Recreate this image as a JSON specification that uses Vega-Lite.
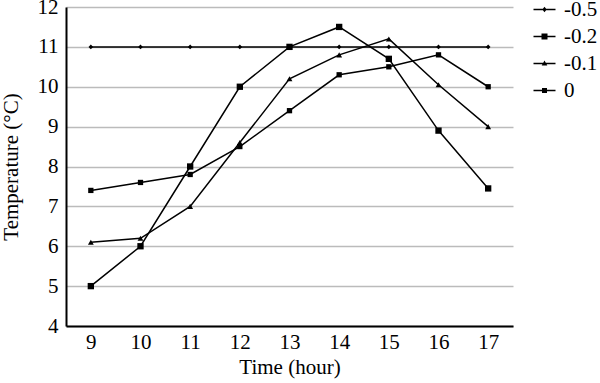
{
  "$schema": "https://vega.github.io/schema/vega-lite/v6.json",
  "autosize": {"type": "none"},
  "padding": {"left": 66, "top": 7, "right": 87, "bottom": 57},
  "width": 447,
  "height": 319,
  "background": "white",
  "config": {
    "font": "Liberation Serif",
    "axis": {"labelFont": "Liberation Serif", "titleFont": "Liberation Serif"},
    "legend": {"labelFont": "Liberation Serif"},
    "view": {"stroke": null}
  },
  "data": {
    "values": [
      {"series": "-0.5", "hour": 9, "temp": 11.0},
      {"series": "-0.5", "hour": 10, "temp": 11.0},
      {"series": "-0.5", "hour": 11, "temp": 11.0},
      {"series": "-0.5", "hour": 12, "temp": 11.0},
      {"series": "-0.5", "hour": 13, "temp": 11.0},
      {"series": "-0.5", "hour": 14, "temp": 11.0},
      {"series": "-0.5", "hour": 15, "temp": 11.0},
      {"series": "-0.5", "hour": 16, "temp": 11.0},
      {"series": "-0.5", "hour": 17, "temp": 11.0},
      {"series": "-0.2", "hour": 9, "temp": 7.4},
      {"series": "-0.2", "hour": 10, "temp": 7.6},
      {"series": "-0.2", "hour": 11, "temp": 7.8},
      {"series": "-0.2", "hour": 12, "temp": 8.5},
      {"series": "-0.2", "hour": 13, "temp": 9.4},
      {"series": "-0.2", "hour": 14, "temp": 10.3},
      {"series": "-0.2", "hour": 15, "temp": 10.5},
      {"series": "-0.2", "hour": 16, "temp": 10.8},
      {"series": "-0.2", "hour": 17, "temp": 10.0},
      {"series": "-0.1", "hour": 9, "temp": 6.1},
      {"series": "-0.1", "hour": 10, "temp": 6.2},
      {"series": "-0.1", "hour": 11, "temp": 7.0},
      {"series": "-0.1", "hour": 12, "temp": 8.6},
      {"series": "-0.1", "hour": 13, "temp": 10.2},
      {"series": "-0.1", "hour": 14, "temp": 10.8},
      {"series": "-0.1", "hour": 15, "temp": 11.2},
      {"series": "-0.1", "hour": 16, "temp": 10.05},
      {"series": "-0.1", "hour": 17, "temp": 9.0},
      {"series": "0", "hour": 9, "temp": 5.0},
      {"series": "0", "hour": 10, "temp": 6.0},
      {"series": "0", "hour": 11, "temp": 8.0},
      {"series": "0", "hour": 12, "temp": 10.0},
      {"series": "0", "hour": 13, "temp": 11.0},
      {"series": "0", "hour": 14, "temp": 11.5},
      {"series": "0", "hour": 15, "temp": 10.7},
      {"series": "0", "hour": 16, "temp": 8.9},
      {"series": "0", "hour": 17, "temp": 7.45}
    ]
  },
  "encoding": {
    "x": {
      "field": "hour", "type": "quantitative",
      "scale": {"domain": [8.5, 17.5], "nice": false, "zero": false},
      "axis": {
        "values": [9, 10, 11, 12, 13, 14, 15, 16, 17],
        "grid": false, "ticks": false,
        "domainColor": "black", "domainWidth": 2,
        "labelFontSize": 21, "labelColor": "black", "labelPadding": 5,
        "title": "Time (hour)", "titleFontSize": 21, "titleFontWeight": "normal",
        "titleColor": "black", "titlePadding": 4
      }
    },
    "y": {
      "field": "temp", "type": "quantitative",
      "scale": {"domain": [4, 12], "nice": false, "zero": false},
      "axis": {
        "values": [4, 5, 6, 7, 8, 9, 10, 11, 12],
        "grid": true, "gridColor": "#bbbbbb", "gridWidth": 1.5,
        "ticks": false,
        "domainColor": "black", "domainWidth": 2,
        "labelFontSize": 21, "labelColor": "black", "labelPadding": 8,
        "title": "Temperature (°C)", "titleFontSize": 21, "titleFontWeight": "normal",
        "titleColor": "black", "titlePadding": 16
      }
    }
  },
  "layer": [
    {
      "mark": {"type": "line", "color": "black", "strokeWidth": 1.5},
      "encoding": {"detail": {"field": "series"}}
    },
    {
      "mark": {"type": "point", "filled": true, "color": "black", "opacity": 1},
      "encoding": {
        "shape": {
          "field": "series", "type": "nominal",
          "scale": {"domain": ["-0.5", "-0.2", "-0.1", "0"], "range": ["diamond", "square", "triangle-up", "square"]},
          "legend": null
        },
        "size": {
          "field": "series", "type": "nominal",
          "scale": {"domain": ["-0.5", "-0.2", "-0.1", "0"], "range": [22, 40, 28, 30]},
          "legend": null
        }
      }
    },
    {
      "mark": {"type": "point", "filled": true, "color": "black", "size": 400, "opacity": 0},
      "encoding": {
        "shape": {
          "field": "series", "type": "nominal",
          "scale": {
            "domain": ["-0.5", "-0.2", "-0.1", "0"],
            "range": [
              "M-1.1,-0.07H1.1V0.07H-1.1ZM0,-0.28L0.22,0L0,0.28L-0.22,0Z",
              "M-1.1,-0.07H1.1V0.07H-1.1ZM-0.3,-0.3H0.3V0.3H-0.3Z",
              "M-1.1,-0.07H1.1V0.07H-1.1ZM0,-0.3L0.28,0.2H-0.28Z",
              "M-1.1,-0.07H1.1V0.07H-1.1ZM-0.25,-0.25H0.25V0.25H-0.25Z"
            ]
          },
          "legend": {
            "title": null,
            "orient": "none",
            "legendX": 468,
            "legendY": -8,
            "labelFontSize": 21,
            "labelColor": "black",
            "labelOffset": 9,
            "rowPadding": 5,
            "symbolSize": 400,
            "symbolOpacity": 1,
            "symbolFillColor": "black",
            "symbolStrokeWidth": 0
          }
        }
      }
    }
  ],
  "resolve": {"scale": {"shape": "independent", "size": "independent"}}
}
